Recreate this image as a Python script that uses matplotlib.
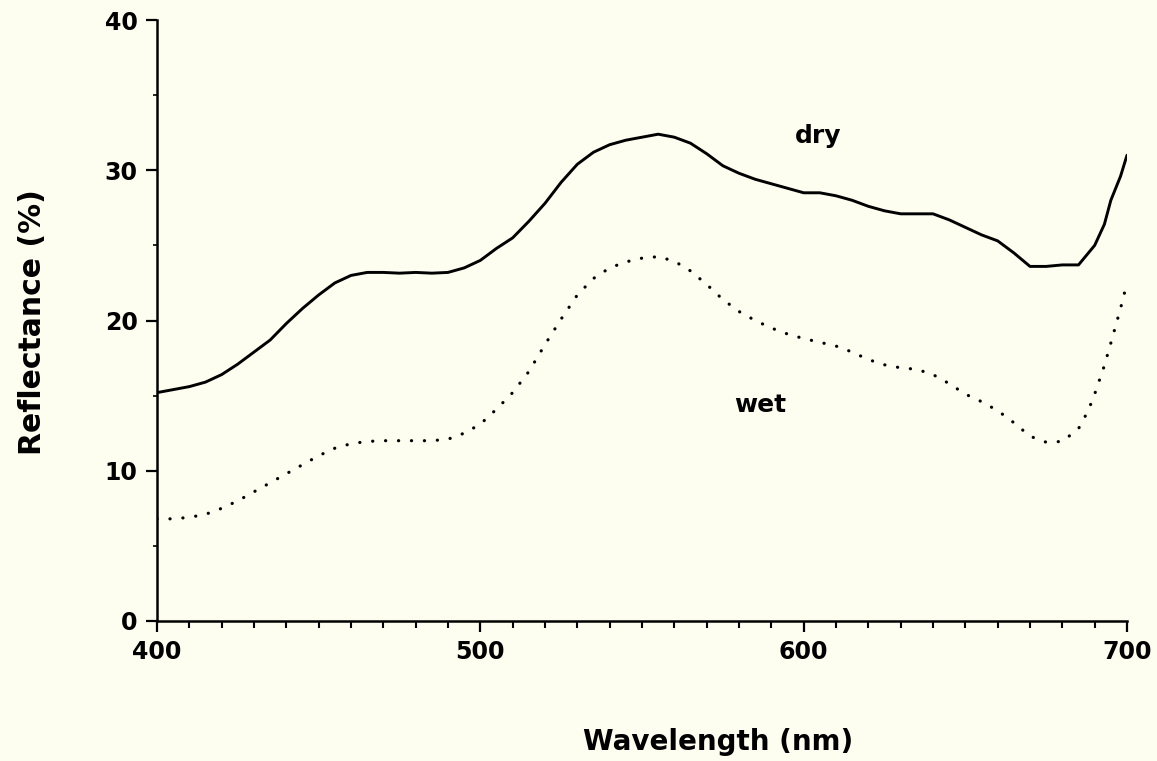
import matplotlib
matplotlib.use("Agg")
import matplotlib.pyplot as plt
from matplotlib.ticker import MultipleLocator

wl_dry = [400, 405, 410, 415, 420, 425, 430, 435, 440, 445, 450, 455, 460, 465, 470, 475,
          480, 485, 490, 495, 500, 505, 510, 515, 520, 525, 530, 535, 540, 545, 550, 555,
          560, 565, 570, 575, 580, 585, 590, 595, 600, 605, 610, 615, 620, 625, 630, 635,
          640, 645, 650, 655, 660, 665, 670, 675, 680, 685, 690, 693, 695, 698, 700]
dry = [15.2, 15.4, 15.6, 15.9, 16.4, 17.1, 17.9, 18.7, 19.8, 20.8, 21.7, 22.5, 23.0, 23.2, 23.2, 23.15,
       23.2, 23.15, 23.2, 23.5, 24.0, 24.8, 25.5, 26.6, 27.8, 29.2, 30.4, 31.2, 31.7, 32.0, 32.2, 32.4,
       32.2, 31.8, 31.1, 30.3, 29.8, 29.4, 29.1, 28.8, 28.5, 28.5, 28.3, 28.0, 27.6, 27.3, 27.1, 27.1,
       27.1, 26.7, 26.2, 25.7, 25.3, 24.5, 23.6, 23.6, 23.7, 23.7, 25.0, 26.4, 28.0, 29.6, 31.0]

wl_wet = [400, 405, 410, 415, 420, 425, 430, 435, 440, 445, 450, 455, 460, 465, 470, 475,
          480, 485, 490, 495, 500, 505, 510, 515, 520, 525, 530, 535, 540, 545, 550, 555,
          560, 565, 570, 575, 580, 585, 590, 595, 600, 605, 610, 615, 620, 625, 630, 635,
          640, 645, 650, 655, 660, 665, 670, 675, 680, 685, 688, 690, 693, 695, 698, 700]
wet = [6.8, 6.8, 6.9, 7.1, 7.5, 8.0, 8.6, 9.2, 9.8, 10.4, 11.0, 11.5, 11.8, 11.95, 12.0, 12.0,
       12.0, 12.0, 12.1, 12.5, 13.1, 14.1, 15.2, 16.6, 18.4, 20.1, 21.7, 22.8, 23.5, 23.9, 24.15, 24.25,
       23.95, 23.3, 22.4, 21.4, 20.6, 20.0, 19.5, 19.1, 18.8, 18.55, 18.3, 17.9, 17.4, 17.05, 16.85, 16.75,
       16.4, 15.8, 15.1, 14.6, 14.0, 13.2, 12.3, 11.9, 11.95, 12.8, 14.0, 15.1, 17.0, 18.5, 20.8, 22.5]

x_major = [400, 500, 600, 700]
y_major = [0, 10, 20, 30, 40]
bg = "#FDFDF0"
FONT = ["DejaVu Sans"]

fig = plt.figure(figsize=(11.57, 7.61), dpi=100, facecolor=bg)
ax = fig.add_axes([157/1157, 1 - 621/761, (1127 - 157)/1157, (621 - 20)/761])
ax.set_facecolor(bg)

ax.plot(wl_dry, dry, color="black", lw=2.1, solid_capstyle="round", solid_joinstyle="round")
ax.plot(wl_wet, wet, color="black", lw=2.3, linestyle=(0, (0.05, 4.0)), dash_capstyle="round")

ax.set_xlim(400, 700)
ax.set_ylim(0, 40)
ax.set_xticks(x_major)
ax.set_yticks(y_major)
ax.xaxis.set_minor_locator(MultipleLocator(10))
ax.yaxis.set_minor_locator(MultipleLocator(5))

for s in ["top", "right"]:
    ax.spines[s].set_visible(False)
for s in ["left", "bottom"]:
    ax.spines[s].set_linewidth(1.8)

ax.tick_params(axis="both", which="major", direction="out", length=8, width=1.6,
               labelsize=17, pad=6)
ax.tick_params(axis="x", which="minor", direction="out", length=5, width=1.5)
ax.tick_params(axis="y", which="minor", direction="out", length=3, width=1.2)
for lab in ax.get_xticklabels() + ax.get_yticklabels():
    lab.set_family(FONT)
    lab.set_fontweight("bold")

ax.text(604.5, 31.8, "dry", fontsize=18, fontweight="bold", family=FONT, ha="center", va="baseline")
ax.text(586.5, 13.93, "wet", fontsize=18, fontweight="bold", family=FONT, ha="center", va="baseline")

fig.text(718/1157, 1 - 742/761, "Wavelength (nm)", fontsize=20, fontweight="bold",
         family=FONT, ha="center", va="center")
fig.text(33/1157, 1 - 322/761, "Reflectance (%)", fontsize=21.5, fontweight="bold",
         family=FONT, ha="center", va="center", rotation=90)

fig.savefig("out.png", dpi=100, facecolor=bg)
